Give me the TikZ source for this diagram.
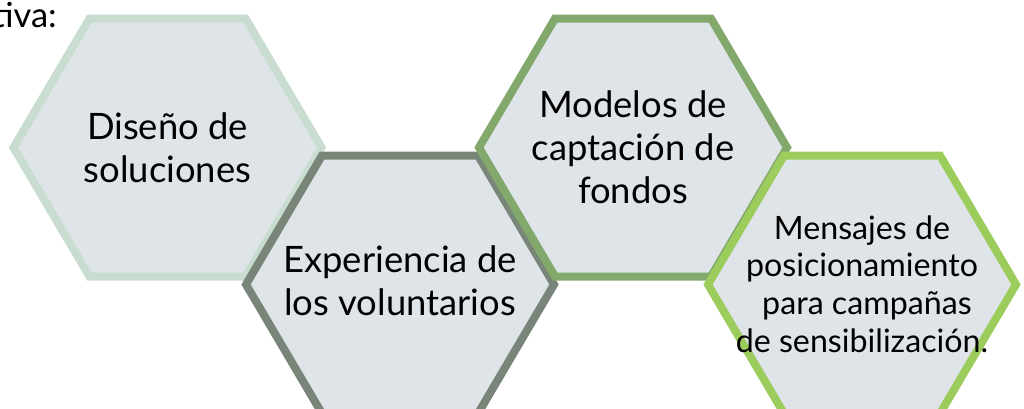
\documentclass[tikz,border=0pt]{standalone}
\usepackage{fontspec}
\setmainfont{Lato}
\usetikzlibrary{calc}
\definecolor{hexfill}{HTML}{DFE4E9}
\definecolor{cA}{HTML}{C8DDD0}
\definecolor{cB}{HTML}{798579}
\definecolor{cC}{HTML}{82A86C}
\definecolor{cD}{HTML}{9BCC5C}
\begin{document}
\begin{tikzpicture}[x=1pt,y=-1pt,
  hexline/.style={line width=8pt, line join=miter, fill=hexfill},
  lbl/.style={align=center, font=\fontsize{36.4}{43}\selectfont, inner sep=0pt, text=black},
  lblsmall/.style={align=center, font=\fontsize{32.2}{37.7}\selectfont, inner sep=0pt, text=black}]
\useasboundingbox (0,0) rectangle (1024,408);
\clip (0,0) rectangle (1024,408);
\newcommand{\hexagonat}[2]{%
  \draw[hexline, draw=#2] ($(#1)+(-154,0)$) -- ($(#1)+(-78,-129)$) -- ($(#1)+(78,-129)$)
    -- ($(#1)+(154,0)$) -- ($(#1)+(78,129)$) -- ($(#1)+(-78,129)$) -- cycle;}
\coordinate (h1) at (167.5,147.5);
\coordinate (h2) at (400,284.5);
\coordinate (h3) at (633,147.5);
\coordinate (h4) at (862,284.5);
\hexagonat{h1}{cA}
\hexagonat{h2}{cB}
\hexagonat{h3}{cC}
\hexagonat{h4}{cD}
\node[anchor=base east, font=\fontsize{34.5}{42}\selectfont, inner sep=0pt] (intro) at (57,27) {tiva:};
\node[lbl] (t1) at (h1) {Diseño de\\soluciones};
\node[lbl] (t2) at ($(h2)+(0,-3.5)$) {Experiencia de\\los voluntarios};
\node[lbl] (t3) at (h3) {Modelos de\\captación de\\fondos};
\node[lblsmall] (t4) at ($(h4)+(0,-0.5)$) {Mensajes de\\posicionamiento\hspace*{6pt}\\\hspace*{10pt}para campañas\\de sensibilización.};
\end{tikzpicture}
\end{document}
